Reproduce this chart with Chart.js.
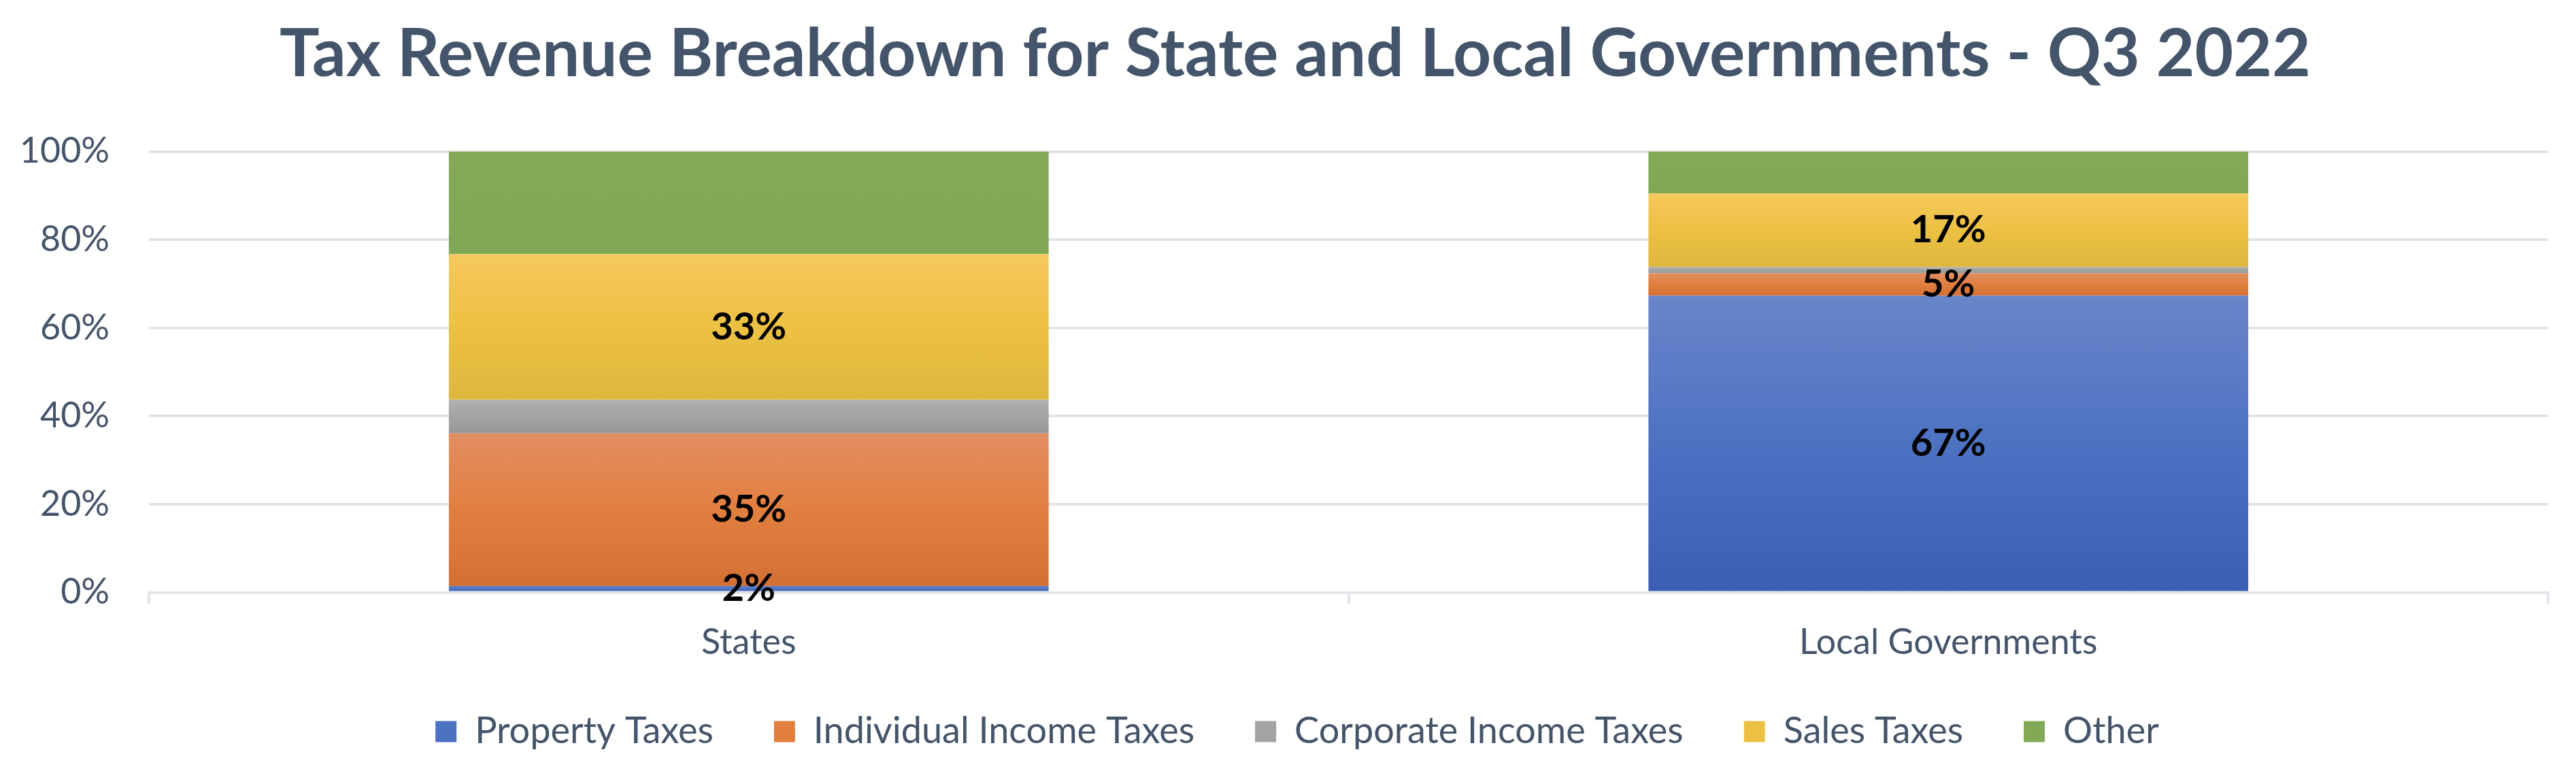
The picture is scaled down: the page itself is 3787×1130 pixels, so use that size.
<!DOCTYPE html>
<html>
<head>
<meta charset="utf-8">
<script src="https://cdn.jsdelivr.net/npm/chart.js@4/dist/chart.umd.min.js"></script>
<style>
	body{margin:0;background:#fff;}
	#wrap{width:3787px;height:1130px;}
</style>
</head>
<body>
<div id="wrap"><canvas id="myChart" width="3787" height="1130"></canvas></div>
<script>
var categories=['States','Local Governments'];
var seriesNames=['Property Taxes','Individual Income Taxes','Corporate Income Taxes','Sales Taxes','Other'];
var propertyTaxes=[1.5,67.3];
var individualIncomeTaxes=[34.6,5.1];
var corporateIncomeTaxes=[7.6,1.4];
var salesTaxes=[33.0,16.7];
var other=[23.3,9.5];
var yTicks=[0,20,40,60,80,100];
// which series get a value label in the bars
var labelled=[true,true,false,true,false];

// top, middle, bottom colours of each segment's gradient
var shades=[
	['#6985c9','#4d72c2','#3a5eb1'],
	['#e28e62','#e17f3f','#d57034'],
	['#b1b1b1','#a3a3a3','#979797'],
	['#f5c85c','#ecc143','#dfb63e'],
	['#84aa57','#82a956','#80a754']
];
var allValues=[propertyTaxes,individualIncomeTaxes,corporateIncomeTaxes,salesTaxes,other];

var textColor='#44546a';
var gridColor='#e1e4e8';
var legendTrim=41;

function segmentFill(c){
	var s=shades[c.datasetIndex];
	if(c.type!=='data') return s[1];
	var y=c.chart.scales.y;
	if(!y) return s[1];
	var start=0;
	for(var k=0;k<c.datasetIndex;k++) start+=allValues[k][c.dataIndex];
	var top=y.getPixelForValue(start+allValues[c.datasetIndex][c.dataIndex]);
	var bot=y.getPixelForValue(start);
	if(!isFinite(top)||!isFinite(bot)||top===bot) return s[1];
	var g=c.chart.ctx.createLinearGradient(0,top,0,bot);
	g.addColorStop(0,s[0]);
	g.addColorStop(0.5,s[1]);
	g.addColorStop(1,s[2]);
	return g;
}

var datasets=[];
allValues.forEach(function(vals,i){
	datasets.push({
		label:seriesNames[i],
		data:vals,
		backgroundColor:segmentFill,
		borderWidth:0,
		barPercentage:0.5,
		categoryPercentage:1
	});
});

var barLabels={
	id:'barLabels',
	afterDatasetsDraw:function(chart){
		var ctx=chart.ctx;
		ctx.save();
		ctx.font='bold 56px Lato';
		ctx.fillStyle='#000';
		ctx.textAlign='center';
		ctx.textBaseline='middle';
		chart.data.datasets.forEach(function(ds,i){
			if(!labelled[i]) return;
			chart.getDatasetMeta(i).data.forEach(function(el,j){
				ctx.fillText(Math.round(ds.data[j])+'%',el.x,(el.y+el.base)/2);
			});
		});
		ctx.restore();
	}
};

// the legend padding is wanted only between items, not above them,
// and title/legend sit a little right of the canvas centre
var boxTweaks={
	id:'boxTweaks',
	beforeLayout:function(chart){
		var leg=chart.legend;
		if(!leg||leg._trimmed) return;
		leg._trimmed=true;
		var fit=leg.fit;
		leg.fit=function(){
			fit.apply(this,arguments);
			this.height-=legendTrim;
		};
	},
	afterLayout:function(chart){
		chart.legend.top-=legendTrim;
		chart.legend.left+=68;
		chart.titleBlock.left+=62;
	}
};

var ctx=document.getElementById('myChart').getContext('2d');
var myChart=new Chart(ctx,{
	type:'bar',
	data:{labels:categories,datasets:datasets},
	plugins:[barLabels,boxTweaks],
	options:{
		responsive:false,
		animation:false,
		devicePixelRatio:1,
		events:[],
		layout:{padding:{left:0,right:41,top:0,bottom:18}},
		plugins:{
			title:{
				display:true,
				text:'Tax Revenue Breakdown for State and Local Governments - Q3 2022',
				color:textColor,
				font:{family:'Lato',size:98,weight:'bold'},
				padding:{top:22,bottom:83}
			},
			legend:{
				position:'bottom',
				labels:{
					color:textColor,
					font:{family:'Lato',size:54},
					boxWidth:31,
					boxHeight:31,
					padding:89,
					generateLabels:function(chart){
						return seriesNames.map(function(n,i){
							return {text:n,fillStyle:shades[i][1],strokeStyle:shades[i][1],lineWidth:0,datasetIndex:i,fontColor:textColor};
						});
					}
				}
			},
			tooltip:{enabled:false}
		},
		scales:{
			x:{
				stacked:true,
				grid:{drawOnChartArea:false,drawTicks:true,tickLength:17,color:gridColor,lineWidth:4},
				border:{display:true,color:gridColor,width:4},
				ticks:{color:textColor,font:{family:'Lato',size:52},padding:25}
			},
			y:{
				stacked:true,
				min:0,
				max:100,
				grid:{color:gridColor,lineWidth:4,drawTicks:false},
				border:{display:false},
				afterBuildTicks:function(scale){
					scale.ticks=yTicks.map(function(v){return {value:v};});
				},
				ticks:{
					color:textColor,
					font:{family:'Lato',size:52},
					padding:58,
					callback:function(v){return v+'%';}
				},
				afterFit:function(scale){scale.width=219;}
			}
		}
	}
});
</script>
</body>
</html>
